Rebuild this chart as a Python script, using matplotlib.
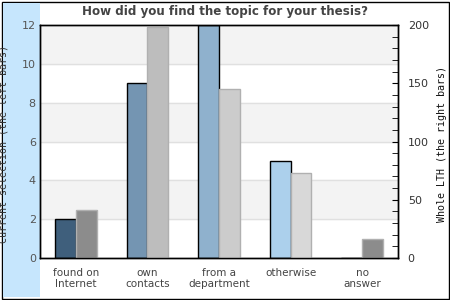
import numpy as np
import matplotlib
matplotlib.use("Agg")
import matplotlib.pyplot as plt
from matplotlib.patches import Rectangle

# Data
categories = ["found on\nInternet", "own\ncontacts", "from a\ndepartment", "otherwise", "no\nanswer"]
current = [2, 9, 12, 5, 0]
whole_lth = [41, 198, 145, 73, 16]

left_colors = ["#3f5f7c", "#7495b2", "#8fb1cd", "#acd0ec", "#c8e2f5"]
right_colors = ["#8c8c8c", "#bdbdbd", "#cccccc", "#d8d8d8", "#8c8c8c"]

fig = plt.figure(figsize=(4.5, 3), dpi=100)
# frame and light blue strip behind the left label
fig.patches.append(Rectangle((1.5/450, 1.5/300), 447/450, 297/300, transform=fig.transFigure,
                             fill=False, edgecolor="black", lw=1, zorder=-2))
fig.patches.append(Rectangle((3/450, 3/300), 37/450, 294/300, transform=fig.transFigure,
                             facecolor="#c6e6fd", edgecolor="none", zorder=-2))

ax = fig.add_axes([40/450, 42/300, 358/450, 233/300])
ax.set_xlim(-0.5, 4.5)
ax.set_ylim(0, 12)
for lo in [2, 6, 10]:
    ax.axhspan(lo, lo + 2, color="#f3f3f3", zorder=0)
for y in range(2, 12, 2):
    ax.axhline(y, color="#e0e0e0", lw=1, zorder=0.5)

x = np.arange(len(categories))
w = 0.29
ax.bar(x - w/2, current, w, color=left_colors, edgecolor="black", lw=1, zorder=2)

ax2 = ax.twinx()
ax2.set_ylim(0, 200)
ax2.bar(x + w/2, whole_lth, w, color=right_colors, edgecolor="#b0b0b0", lw=1, zorder=2)

ax.set_xticks(x)
ax.set_xticklabels(categories, fontsize=7.5, color="#444444", linespacing=1.1, va="top")
ax.tick_params(axis="x", length=0, pad=7)
ax.set_yticks(range(0, 13, 2))
ax.tick_params(axis="y", length=0, pad=3, labelsize=8, labelcolor="#555555")

ax2.set_yticks(range(0, 201, 50))
ax2.set_yticks(range(0, 201, 10), minor=True)
ax2.tick_params(axis="y", which="both", direction="in", length=4, pad=7,
                labelsize=8, labelcolor="#333333")

for a in (ax, ax2):
    for s in a.spines.values():
        s.set_linewidth(1)
        s.set_color("black")

ax.set_ylabel("Current selection (the left bars)", family="DejaVu Sans Mono",
              fontsize=7.2, color="#333333")
ax.yaxis.set_label_coords(-31/358, 0.49)
ax2.set_ylabel("Whole LTH (the right bars)", family="DejaVu Sans Mono",
               fontsize=7.2, color="#111111")
ax2.yaxis.set_label_coords(1 + 39/358, 0.49)

fig.text(0.5, 1 - 12/300, "How did you find the topic for your thesis?", ha="center", va="center",
         fontsize=8.6, fontweight="bold", color="#444444")

fig.savefig("out.png", dpi=100)
